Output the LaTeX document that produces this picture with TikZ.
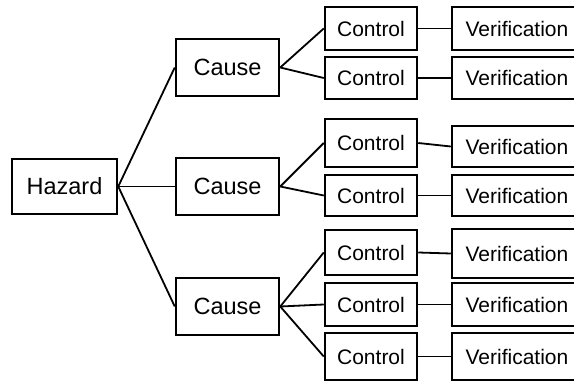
\documentclass[tikz,border=0pt]{standalone}
\usepackage{fontspec}
\setmainfont{Liberation Sans}
\usepackage{tikz}

\begin{document}
\begin{tikzpicture}[
x=1pt, y=-1pt,
box/.style={draw, line width=2.5pt, inner sep=0pt, align=center},
bigbox/.style={box, minimum width=105pt, minimum height=55pt, font=\fontsize{23.5}{27}\selectfont},
ctrlbox/.style={box, minimum width=92pt, minimum height=44pt, font=\fontsize{21}{24}\selectfont},
verifbox/.style={box, minimum width=130pt, minimum height=44pt, font=\fontsize{21}{24}\selectfont, text width=110pt},
link/.style={line width=1.8pt}
]
\useasboundingbox (0,0) rectangle (574,382);
\clip (0,0) rectangle (574,382);
\node[bigbox] (hazard) at (64.5,186.5) {Hazard};
\node[bigbox, minimum width=103pt, minimum height=57pt] (cause1) at (227.5,67.5) {Cause};
\node[bigbox, minimum width=103pt, minimum height=57pt] (cause2) at (227.5,186.5) {Cause};
\node[bigbox, minimum width=103pt, minimum height=57pt] (cause3) at (227.5,306.5) {Cause};
% controls
\node[ctrlbox, minimum height=43pt] (ctrl1) at (371,28.5) {Control};
\node[ctrlbox, minimum height=42pt] (ctrl2) at (371,78) {Control};
\node[ctrlbox, minimum height=48pt] (ctrl3) at (371,143) {Control};
\node[ctrlbox, minimum height=41pt] (ctrl4) at (371,195.5) {Control};
\node[ctrlbox, minimum height=45pt] (ctrl5) at (371,252.5) {Control};
\node[ctrlbox, minimum height=43pt] (ctrl6) at (371,304.5) {Control};
\node[ctrlbox, minimum height=47pt] (ctrl7) at (371,356.5) {Control};
% verifications
\node[verifbox, minimum height=43pt] (verif1) at (517,28.5) {Verification};
\node[verifbox, minimum height=42pt] (verif2) at (517,78) {Verification};
\node[verifbox, minimum height=41pt] (verif3) at (517,146.5) {Verification};
\node[verifbox, minimum height=41pt] (verif4) at (517,195.5) {Verification};
\node[verifbox, minimum height=49pt] (verif5) at (517,253.5) {Verification};
\node[verifbox, minimum height=43pt] (verif6) at (517,304.5) {Verification};
\node[verifbox, minimum height=47pt] (verif7) at (517,356.5) {Verification};
\draw[link] (hazard.east)--(cause1.west);
\draw[link] (hazard.east)--(cause2.west);
\draw[link] (hazard.east)--(cause3.west);
\draw[link] (cause1.east)--(ctrl1.west);
\draw[link] (cause1.east)--(ctrl2.west);
\draw[link] (cause2.east)--(ctrl3.west);
\draw[link] (cause2.east)--(ctrl4.west);
\draw[link] (cause3.east)--(ctrl5.west);
\draw[link] (cause3.east)--(ctrl6.west);
\draw[link] (cause3.east)--(ctrl7.west);
\draw[link] (ctrl1.east)--(verif1.west);
\draw[link] (ctrl2.east)--(verif2.west);
\draw[link] (ctrl3.east)--(verif3.west);
\draw[link] (ctrl4.east)--(verif4.west);
\draw[link] (ctrl5.east)--(verif5.west);
\draw[link] (ctrl6.east)--(verif6.west);
\draw[link] (ctrl7.east)--(verif7.west);
\end{tikzpicture}
\end{document}
